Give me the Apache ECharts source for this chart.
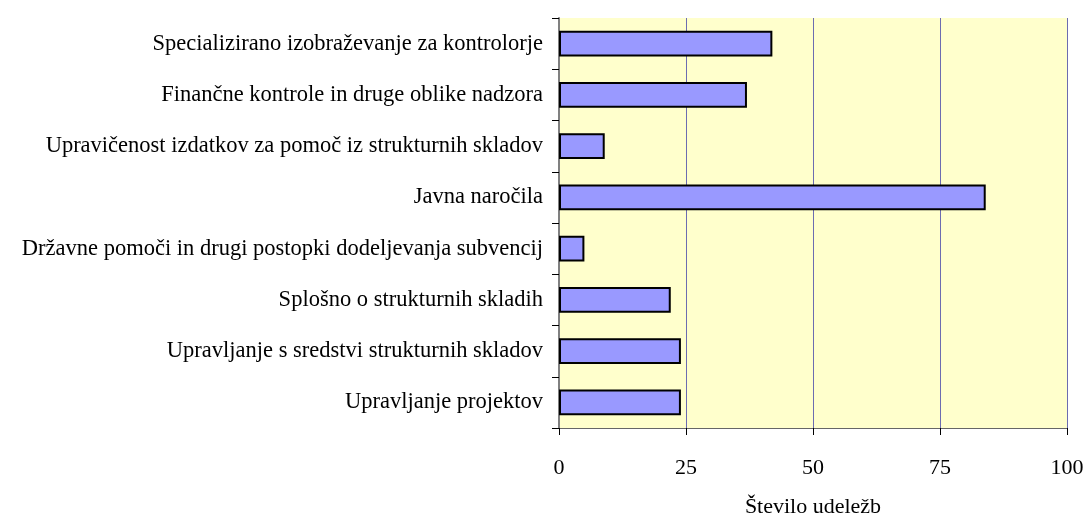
<!DOCTYPE html>
<html style="height: 100%">
<head>
    <meta charset="utf-8">
    <title>Število udeležb</title>
</head>
<body style="height: 100%; margin: 0">
<div id="container" style="width: 1086px; height: 520px"></div>
<script type="text/javascript" src="https://cdn.jsdelivr.net/npm/echarts@6/dist/echarts.min.js"></script>
<script type="text/javascript">
    // kategorije od zgoraj navzdol
    var categories = [
        'Specializirano izobraževanje za kontrolorje',
        'Finančne kontrole in druge oblike nadzora',
        'Upravičenost izdatkov za pomoč iz strukturnih skladov',
        'Javna naročila',
        'Državne pomoči in drugi postopki dodeljevanja subvencij',
        'Splošno o strukturnih skladih',
        'Upravljanje s sredstvi strukturnih skladov',
        'Upravljanje projektov'
    ];
    var udelezbe = [42, 37, 9, 84, 5, 22, 24, 24];
    var xTicks = [0, 25, 50, 75, 100];

    var font = '"Liberation Serif", "DejaVu Serif", serif';
    var myChart = echarts.init(document.getElementById('container'));
    var option = {
        backgroundColor: '#ffffff',
        animation: false,
        grid: {
            left: 559,
            right: 19,
            top: 18,
            bottom: 92,
            containLabel: false,
            outerBoundsMode: 'none',
            show: true,
            backgroundColor: '#ffffcc',
            borderWidth: 0
        },
        xAxis: {
            type: 'value',
            min: xTicks[0],
            max: xTicks[xTicks.length - 1],
            interval: 25,
            name: 'Število udeležb',
            nameLocation: 'middle',
            nameGap: 68,
            nameTextStyle: {fontFamily: font, fontSize: 22, color: '#000'},
            axisLine: {show: true, lineStyle: {color: '#666', width: 1}},
            axisTick: {show: true, length: 7, lineStyle: {color: '#000'}},
            axisLabel: {margin: 29, fontFamily: font, fontSize: 22, color: '#000'},
            splitLine: {show: true, lineStyle: {color: '#6c6cb0', width: 1}}
        },
        yAxis: {
            type: 'category',
            inverse: true,
            data: categories,
            axisLine: {show: true, lineStyle: {color: '#808080', width: 2}},
            axisTick: {show: true, length: 7, lineStyle: {color: '#000'}},
            axisLabel: {margin: 16, fontFamily: font, fontSize: 22.5, color: '#000'}
        },
        series: [{
            type: 'bar',
            data: udelezbe,
            barCategoryGap: '50%',
            itemStyle: {color: '#9999ff', borderColor: '#000', borderWidth: 2}
        }]
    };
    myChart.setOption(option);
</script>
</body>
</html>
